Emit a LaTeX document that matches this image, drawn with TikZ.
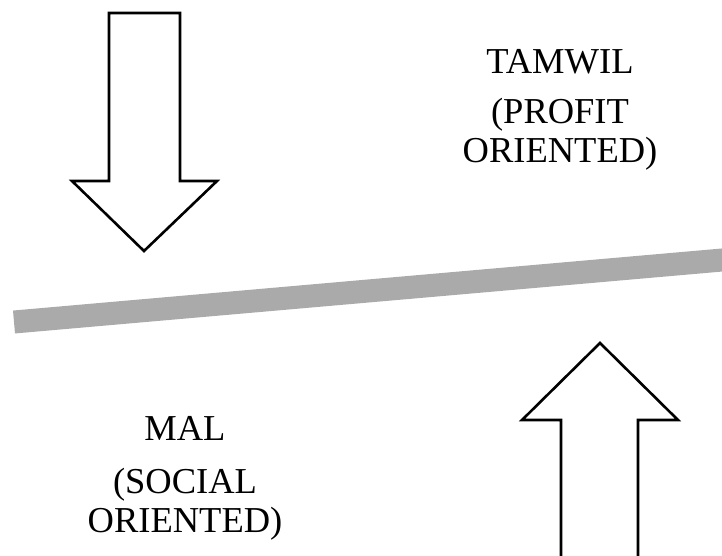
\documentclass[tikz,border=0pt]{standalone}
\usepackage{fontspec}
\setmainfont{Liberation Serif}
\begin{document}
\begin{tikzpicture}[x=1pt,y=-1pt,
  blockarrow/.style={draw=black,line width=2.6pt,fill=white,line join=miter},
  beam/.style={line width=23pt,color=lever,line cap=butt},
  label/.style={font=\fontsize{36.5}{40}\selectfont,anchor=base,inner sep=0pt}]
\definecolor{lever}{HTML}{AAAAAA}
\useasboundingbox (0,0) rectangle (722,555);
\clip (0,0) rectangle (722,555);

% tilted beam
\coordinate (beamL) at (14,322);
\coordinate (beamR) at (745,258);
\draw[beam] (beamL) -- (beamR);

% downward block arrow
\draw[blockarrow] (109,13) -- (180,13) -- (180,181) -- (217,181) -- (144,251)
  -- (72,181) -- (109,181) -- cycle;

% upward block arrow
\draw[blockarrow] (600,343) -- (678,420) -- (638,420) -- (638,570) -- (561,570)
  -- (561,420) -- (522,420) -- cycle;

% labels
\node[label] (tamwil) at (560,73) {TAMWIL};
\node[label] (profit) at (560,123) {(PROFIT};
\node[label] (orientedP) at (560,162) {ORIENTED)};

\node[label] (mal) at (185,440) {MAL};
\node[label] (social) at (185,493) {(SOCIAL};
\node[label] (orientedS) at (185,532) {ORIENTED)};
\end{tikzpicture}
\end{document}
